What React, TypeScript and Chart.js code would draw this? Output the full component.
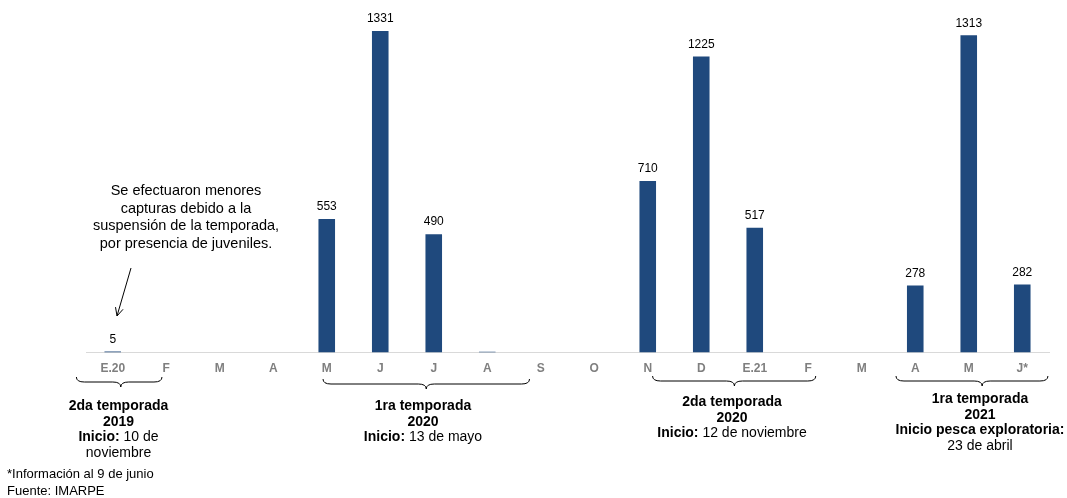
import React, { useEffect, useRef } from "react";
import { Chart, registerables } from "chart.js";

Chart.register(...registerables);

const months = ["E.20", "F", "M", "A", "M", "J", "J", "A", "S", "O", "N", "D", "E.21", "F", "M", "A", "M", "J*"];
const values = [5, 0, 0, 0, 553, 1331, 490, 3, 0, 0, 710, 1225, 517, 0, 0, 278, 1313, 282];
const valueLabels = ["5", "", "", "", "553", "1331", "490", "", "", "", "710", "1225", "517", "", "", "278", "1313", "282"];

const noteLines = ["Se efectuaron menores", "capturas debido a la", "suspensión de la temporada,", "por presencia de juveniles."];
const footnotes = ["*Información al 9 de junio", "Fuente: IMARPE"];

// seasons: brace from/to (category index units), text lines [bold part, normal part]
const seasons = [
  { from: -0.68, to: 0.92, tip: 0.15, lines: [["2da temporada", ""], ["2019", ""], ["Inicio:", " 10 de"], ["", "noviembre"]] },
  { from: 3.93, to: 7.79, tip: 5.86, lines: [["1ra temporada", ""], ["2020", ""], ["Inicio:", " 13 de mayo"]] },
  { from: 10.09, to: 13.14, tip: 11.62, lines: [["2da temporada", ""], ["2020", ""], ["Inicio:", " 12 de noviembre"]] },
  { from: 14.64, to: 17.48, tip: 16.25, lines: [["1ra temporada", ""], ["2021", ""], ["Inicio pesca exploratoria:", ""], ["", "23 de abril"]] },
];

const FONT = "'Liberation Sans', Arial, sans-serif";

function drawBrace(ctx: CanvasRenderingContext2D, x1: number, x2: number, xm: number, y: number, h: number) {
  const q = h / 2;
  ctx.beginPath();
  ctx.moveTo(x1, y);
  ctx.quadraticCurveTo(x1, y + q, x1 + 8, y + q);
  ctx.lineTo(xm - 8, y + q);
  ctx.quadraticCurveTo(xm, y + q, xm, y + h);
  ctx.quadraticCurveTo(xm, y + q, xm + 8, y + q);
  ctx.lineTo(x2 - 8, y + q);
  ctx.quadraticCurveTo(x2, y + q, x2, y);
  ctx.stroke();
}

const overlayPlugin = {
  id: "overlay",
  afterDatasetsDraw(chart: any) {
    const ctx: CanvasRenderingContext2D = chart.ctx;
    const meta = chart.getDatasetMeta(0);
    ctx.save();
    // value labels
    ctx.fillStyle = "#000";
    ctx.font = `12px ${FONT}`;
    ctx.textAlign = "center";
    ctx.textBaseline = "bottom";
    meta.data.forEach((bar: any, i: number) => {
      if (valueLabels[i]) ctx.fillText(valueLabels[i], bar.x, bar.y - 6);
    });

    const xs = chart.scales.x;
    const p0 = xs.getPixelForValue(0);
    const step = xs.getPixelForValue(1) - p0;
    const px = (v: number) => p0 + v * step;

    // braces + season texts
    ctx.strokeStyle = "#000";
    ctx.lineWidth = 1;
    const braceY = [377, 379, 376, 376];
    const textY = [406, 406, 402, 399];
    const textX = [118.5, 423, 732, 980];
    seasons.forEach((s, si) => {
      drawBrace(ctx, px(s.from), px(s.to), px(s.tip), braceY[si], 10);
      const cx = textX[si];
      s.lines.forEach((ln, li) => {
        const y = textY[si] + li * 15.7;
        ctx.textBaseline = "middle";
        ctx.font = `bold 14px ${FONT}`;
        const wb = ln[0] ? ctx.measureText(ln[0]).width : 0;
        ctx.font = `14px ${FONT}`;
        const wn = ln[1] ? ctx.measureText(ln[1]).width : 0;
        const start = cx - (wb + wn) / 2;
        ctx.textAlign = "left";
        if (ln[0]) {
          ctx.font = `bold 14px ${FONT}`;
          ctx.fillText(ln[0], start, y);
        }
        if (ln[1]) {
          ctx.font = `14px ${FONT}`;
          ctx.fillText(ln[1], start + wb, y);
        }
      });
    });

    // note text
    ctx.font = `14.5px ${FONT}`;
    ctx.textAlign = "center";
    ctx.textBaseline = "middle";
    noteLines.forEach((t, i) => ctx.fillText(t, 186, 191 + i * 17.5));
    // arrow
    const ax1 = 131, ay1 = 268, ax2 = 117, ay2 = 316;
    ctx.beginPath();
    ctx.moveTo(ax1, ay1);
    ctx.lineTo(ax2, ay2);
    ctx.stroke();
    const ang = Math.atan2(ay2 - ay1, ax2 - ax1);
    ctx.beginPath();
    ctx.moveTo(ax2 - 9 * Math.cos(ang - 0.45), ay2 - 9 * Math.sin(ang - 0.45));
    ctx.lineTo(ax2, ay2);
    ctx.lineTo(ax2 - 9 * Math.cos(ang + 0.45), ay2 - 9 * Math.sin(ang + 0.45));
    ctx.stroke();

    // footnotes
    ctx.font = `13px ${FONT}`;
    ctx.textAlign = "left";
    ctx.textBaseline = "middle";
    footnotes.forEach((t, i) => ctx.fillText(t, 7, 474 + i * 17.5));
    ctx.restore();
  },
};

export default function App() {
  const ref = useRef<HTMLCanvasElement>(null);
  useEffect(() => {
    if (!ref.current) return;
    const chart = new Chart(ref.current, {
      type: "bar",
      data: {
        labels: months,
        datasets: [
          {
            data: values,
            backgroundColor: "#1F497D",
            borderWidth: 0,
            barPercentage: 0.31,
            categoryPercentage: 1,
          },
        ],
      },
      options: {
        responsive: false,
        animation: false,
        devicePixelRatio: 1,
        layout: { padding: { top: 7, left: 86, right: 18, bottom: 113 } },
        plugins: { legend: { display: false }, tooltip: { enabled: false } },
        scales: {
          x: {
            grid: { display: false, drawTicks: false },
            border: { display: true, color: "#d9d9d9", width: 1 },
            ticks: { color: "#7f7f7f", font: { family: FONT, size: 12, weight: "bold" }, padding: 9, maxRotation: 0, autoSkip: false },
          },
          y: { display: false, min: 0, max: 1430 },
        },
      },
      plugins: [overlayPlugin],
    });
    return () => chart.destroy();
  }, []);
  return (
    <div style={{ position: "absolute", left: 0, top: 0, width: 1067, height: 498, background: "#fff" }}>
      <canvas ref={ref} width={1067} height={498} />
    </div>
  );
}
